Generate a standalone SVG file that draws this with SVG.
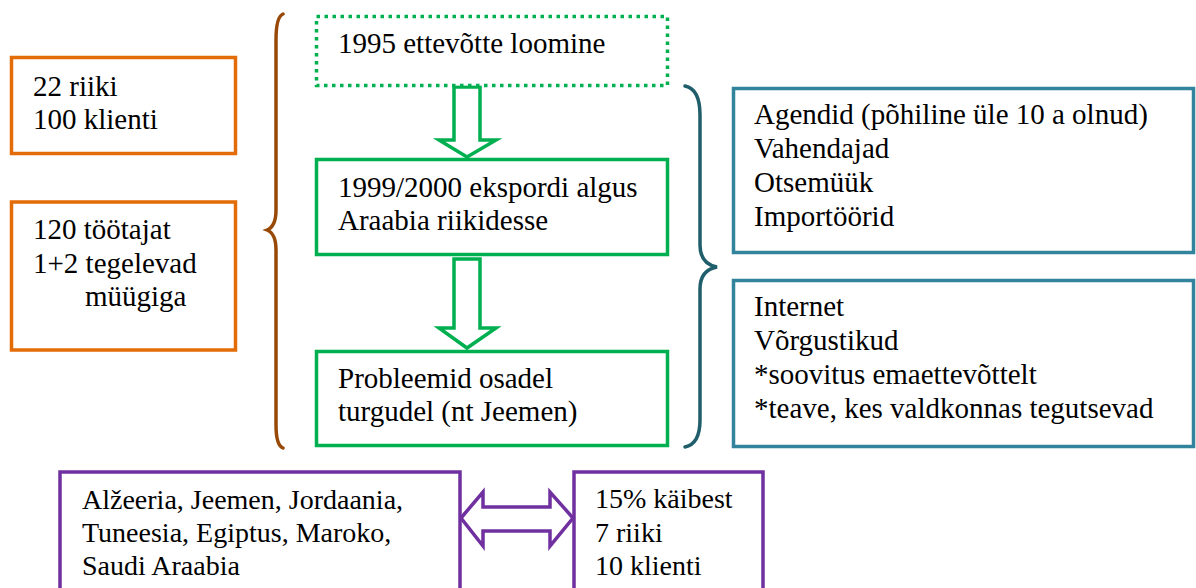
<svg xmlns="http://www.w3.org/2000/svg" width="1196" height="588" viewBox="0 0 1196 588">
<defs>
<polygon id="arrow-down" points="0,0 26,0 26,53 42,53 13,70 -15,53 0,53" fill="#fff" stroke="#00B050" stroke-width="3.5"/>
</defs>
<rect width="1196" height="588" fill="#fff"/>
<g id="connectors">
<polygon points="454,87 480,87 480,140 496,140 467,157 439,140 454,140" fill="#fff" stroke="#00B050" stroke-width="3.5"/>
<polygon points="454,259 480,259 480,328 496,328 467,348 439,328 454,328" fill="#fff" stroke="#00B050" stroke-width="3.5"/>
<polygon points="461,518 483,492 483,507 550,507 550,492 573,518 550,546 550,531 483,531 483,546" fill="#fff" stroke="#7030A0" stroke-width="3.5"/>
<path fill="none" stroke-width="3.5" stroke-linecap="round" stroke="#984807" d="M283,14 C278,16 276,24 276,40 L276,210 C276,222 272,228 267,230 C272,232 276,238 276,250 L276,425 C276,438 278,446 283,448"/>
<path fill="none" stroke-width="3.5" stroke-linecap="round" stroke="#215E6C" d="M685,86 C695,88 700,98 700,115 L700,245 C700,258 706,265 717,267 C706,269 700,276 700,289 L700,420 C700,437 695,445 685,447"/>
</g>
<g id="n-countries">
<rect x="11.5" y="57.5" width="224" height="96" fill="#fff" stroke="#E36C09" stroke-width="3.5"/>
<text x="33" y="96" font-family="Liberation Serif" font-size="29">22 riiki</text>
<text x="33" y="129" font-family="Liberation Serif" font-size="29">100 klienti</text>
</g>
<g id="n-staff">
<rect x="11.5" y="202" width="224" height="148" fill="#fff" stroke="#E36C09" stroke-width="3.5"/>
<text x="33" y="239" font-family="Liberation Serif" font-size="29">120 töötajat</text>
<text x="33" y="273" font-family="Liberation Serif" font-size="29">1+2 tegelevad</text>
<text x="85" y="306" font-family="Liberation Serif" font-size="29">müügiga</text>
</g>
<g id="n-1995">
<rect x="316.5" y="16.5" width="351" height="69" fill="#fff" stroke="#00B050" stroke-width="3.5" stroke-dasharray="3.5 4.5"/>
<text x="338" y="53" font-family="Liberation Serif" font-size="29">1995 ettevõtte loomine</text>
</g>
<g id="n-1999">
<rect x="316.5" y="159.5" width="351" height="95" fill="#fff" stroke="#00B050" stroke-width="3.5"/>
<text x="338" y="197" font-family="Liberation Serif" font-size="29">1999/2000 ekspordi algus</text>
<text x="338" y="230" font-family="Liberation Serif" font-size="29">Araabia riikidesse</text>
</g>
<g id="n-problems">
<rect x="316.5" y="351.5" width="351" height="94" fill="#fff" stroke="#00B050" stroke-width="3.5"/>
<text x="338" y="388" font-family="Liberation Serif" font-size="29">Probleemid osadel</text>
<text x="338" y="421" font-family="Liberation Serif" font-size="29">turgudel (nt Jeemen)</text>
</g>
<g id="n-agents">
<rect x="733.5" y="88.5" width="460" height="164" fill="#fff" stroke="#31849B" stroke-width="3.5"/>
<text x="754" y="124" font-family="Liberation Serif" font-size="29">Agendid (põhiline üle 10 a olnud)</text>
<text x="754" y="158" font-family="Liberation Serif" font-size="29">Vahendajad</text>
<text x="754" y="192" font-family="Liberation Serif" font-size="29">Otsemüük</text>
<text x="754" y="226" font-family="Liberation Serif" font-size="29">Importöörid</text>
</g>
<g id="n-internet">
<rect x="733.5" y="280.5" width="460" height="166" fill="#fff" stroke="#31849B" stroke-width="3.5"/>
<text x="754" y="316" font-family="Liberation Serif" font-size="29">Internet</text>
<text x="754" y="350" font-family="Liberation Serif" font-size="29">Võrgustikud</text>
<text x="754" y="384" font-family="Liberation Serif" font-size="29">*soovitus emaettevõttelt</text>
<text x="754" y="418" font-family="Liberation Serif" font-size="29">*teave, kes valdkonnas tegutsevad</text>
</g>
<g id="n-arab">
<rect x="60" y="472" width="400" height="130" fill="#fff" stroke="#7030A0" stroke-width="3.5"/>
<text x="82" y="509" font-family="Liberation Serif" font-size="28">Alžeeria, Jeemen, Jordaania,</text>
<text x="82" y="542" font-family="Liberation Serif" font-size="28">Tuneesia, Egiptus, Maroko,</text>
<text x="82" y="575" font-family="Liberation Serif" font-size="28">Saudi Araabia</text>
</g>
<g id="n-share">
<rect x="574" y="472" width="189" height="130" fill="#fff" stroke="#7030A0" stroke-width="3.5"/>
<text x="595" y="508" font-family="Liberation Serif" font-size="28">15% käibest</text>
<text x="595" y="542" font-family="Liberation Serif" font-size="28">7 riiki</text>
<text x="595" y="575" font-family="Liberation Serif" font-size="28">10 klienti</text>
</g>
</svg>
